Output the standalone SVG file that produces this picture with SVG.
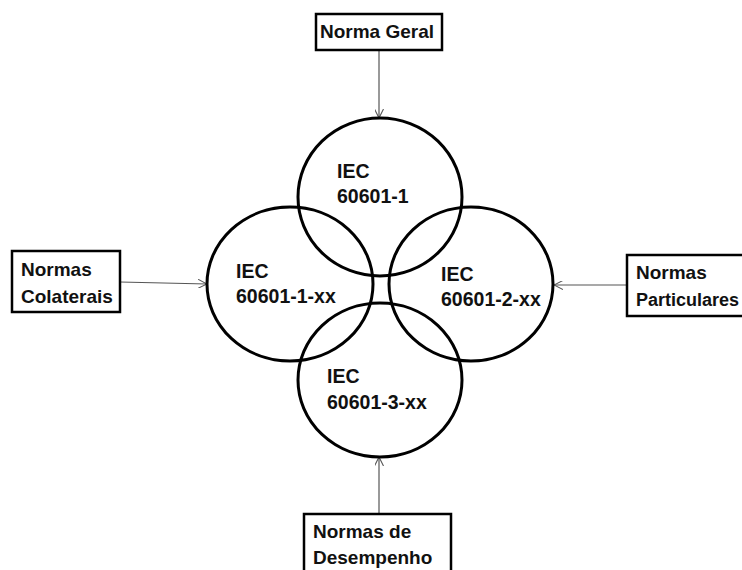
<svg xmlns="http://www.w3.org/2000/svg" width="742" height="570" viewBox="0 0 742 570">
<style>
.c{fill:none;stroke:#000;stroke-width:3}
.b{fill:#fff;stroke:#000;stroke-width:2.5}
.t{font-family:"Liberation Sans",Arial,sans-serif;font-weight:bold;font-size:19px;fill:#111}
.e{font-family:"Liberation Sans",Arial,sans-serif;font-weight:bold;font-size:19.5px;fill:#111}
.a{stroke:#555;stroke-width:1.2;fill:none;marker-end:url(#ah)}
</style>
<defs>
<marker id="ah" viewBox="0 0 10 10" refX="10" refY="5" markerWidth="9" markerHeight="9" markerUnits="userSpaceOnUse" orient="auto">
<path d="M0,0 L10,5 L0,10" fill="none" stroke="#555" stroke-width="1.2"/>
</marker>
</defs>
<rect width="742" height="570" fill="#fff"/>
<g id="connectors">
<line class="a" x1="379" y1="50" x2="379" y2="118"/>
<line class="a" x1="120" y1="282" x2="207" y2="284"/>
<line class="a" x1="627" y1="285" x2="554" y2="285"/>
<line class="a" x1="379" y1="514" x2="379" y2="457"/>
</g>
<g id="iec-60601-1">
<ellipse class="c" cx="380" cy="197" rx="82" ry="79"/>
<text class="e" x="337" y="178">IEC</text>
<text class="e" x="337" y="203">60601-1</text>
</g>
<g id="iec-60601-1-xx">
<ellipse class="c" cx="290" cy="284" rx="83" ry="77"/>
<text class="e" x="236" y="278">IEC</text>
<text class="e" x="236" y="303">60601-1-xx</text>
</g>
<g id="iec-60601-2-xx">
<ellipse class="c" cx="471" cy="284" rx="82" ry="77"/>
<text class="e" x="441" y="281">IEC</text>
<text class="e" x="441" y="306">60601-2-xx</text>
</g>
<g id="iec-60601-3-xx">
<ellipse class="c" cx="380" cy="380" rx="82" ry="77"/>
<text class="e" x="327" y="383">IEC</text>
<text class="e" x="327" y="409">60601-3-xx</text>
</g>
<g id="norma-geral">
<rect class="b" x="316" y="14" width="126" height="36"/>
<text class="t" x="320" y="38">Norma Geral</text>
</g>
<g id="normas-colaterais">
<rect class="b" x="12" y="251" width="108" height="61"/>
<text class="t" x="21" y="276">Normas</text>
<text class="t" x="21" y="303">Colaterais</text>
</g>
<g id="normas-particulares">
<rect class="b" x="627" y="255" width="130" height="61"/>
<text class="t" x="636" y="279">Normas</text>
<text class="t" x="636" y="306" style="font-size:18px">Particulares</text>
</g>
<g id="normas-desempenho">
<rect class="b" x="304" y="514" width="147" height="70"/>
<text class="t" x="313" y="538">Normas de</text>
<text class="t" x="313" y="564">Desempenho</text>
</g>
</svg>
